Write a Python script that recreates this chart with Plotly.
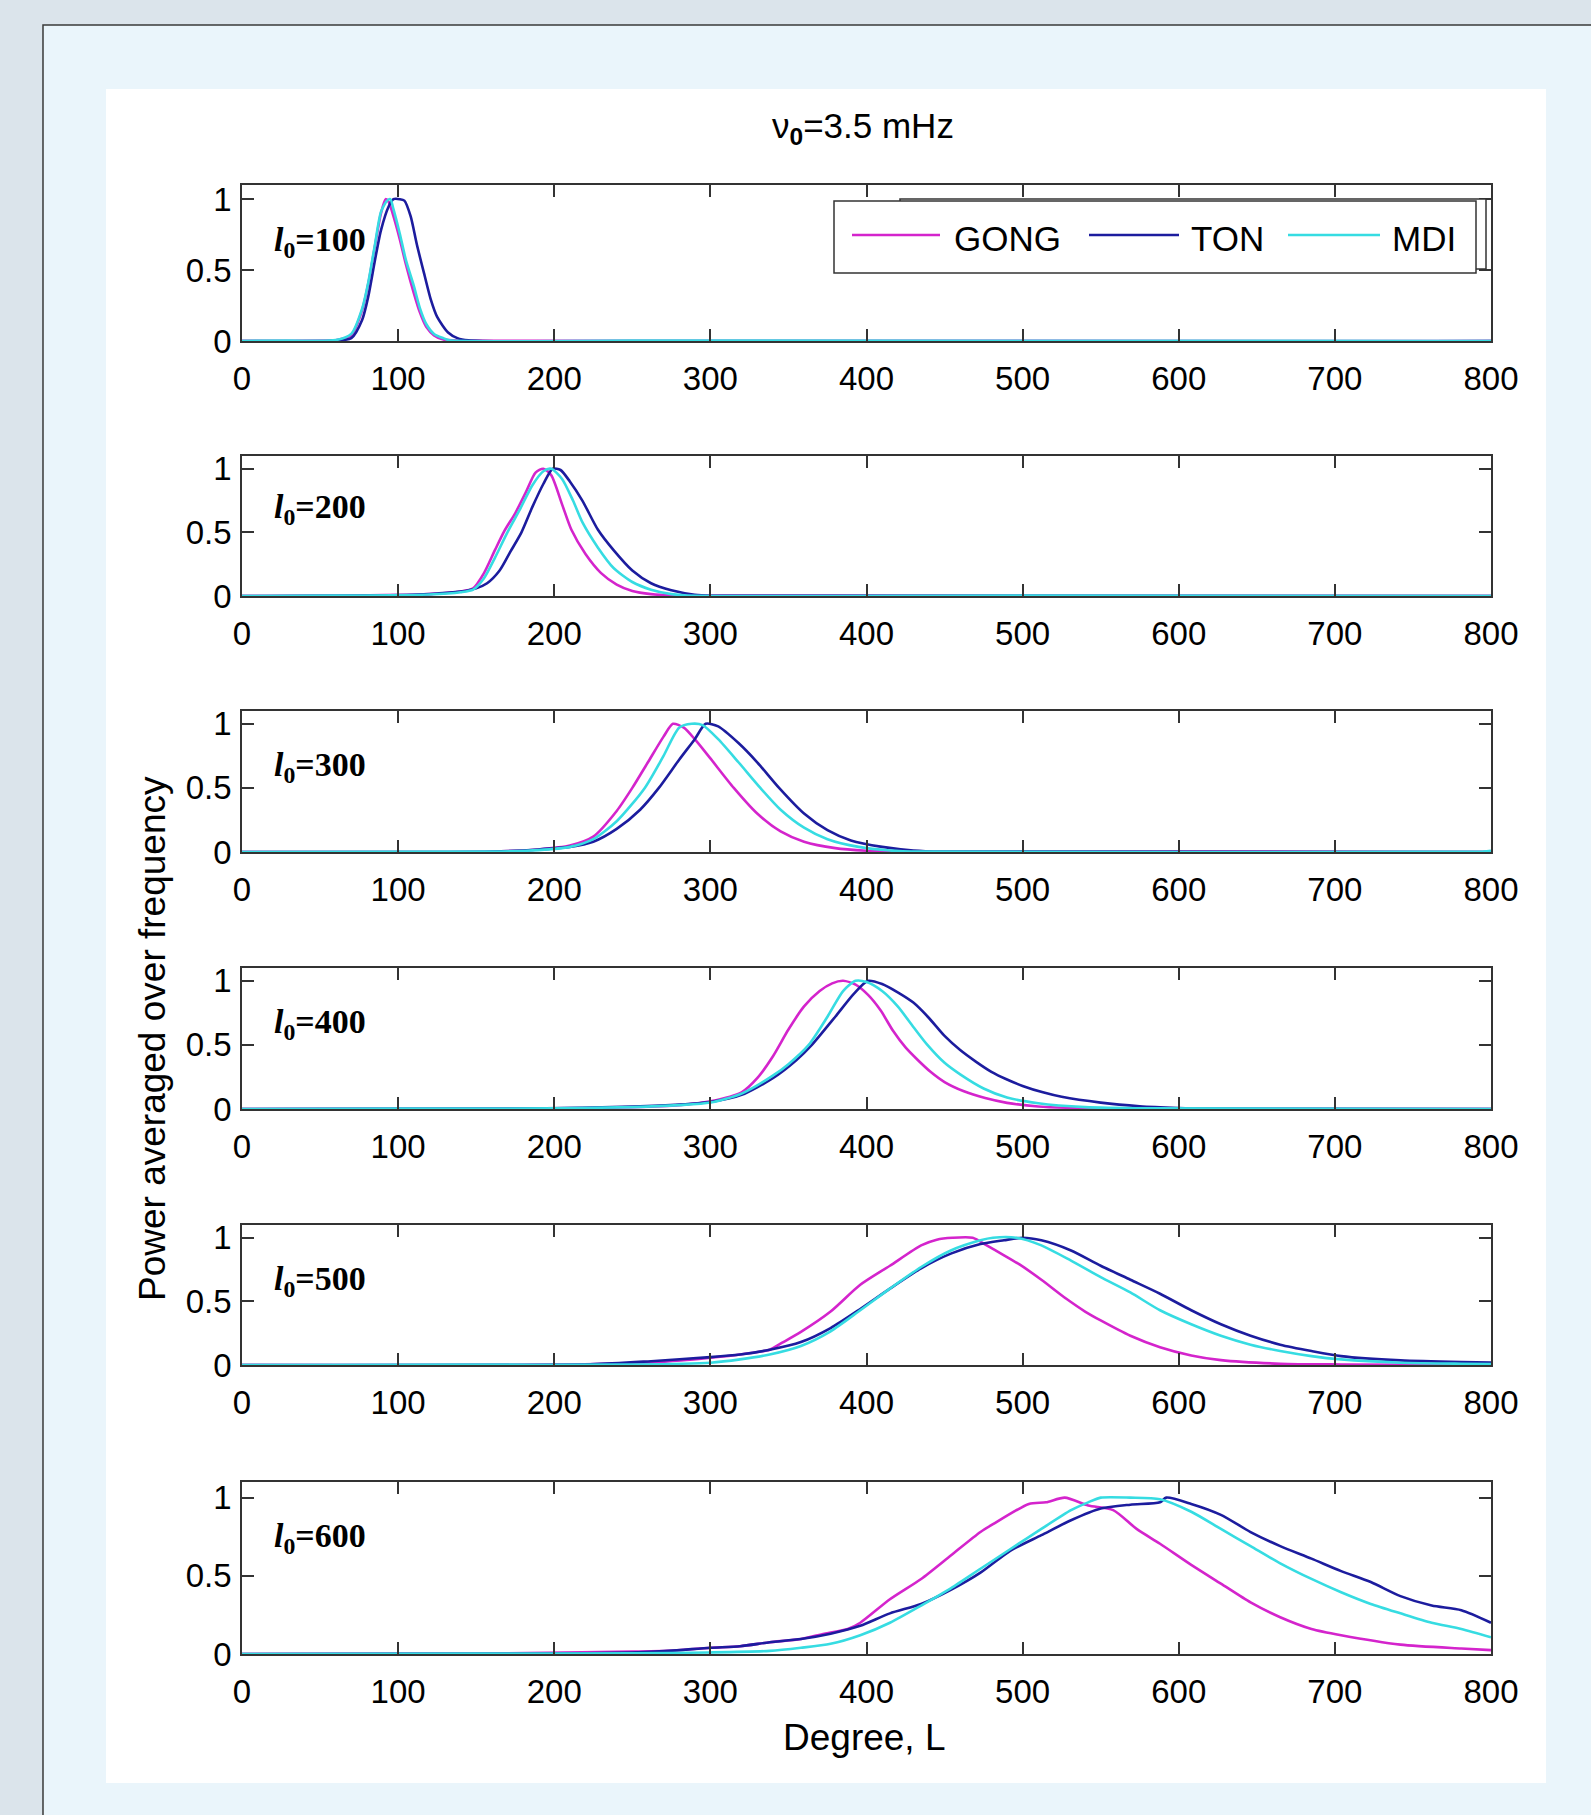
import plotly.graph_objects as go

# ---------------- data ----------------
L0_VALUES = [100, 200, 300, 400, 500, 600]
SERIES_NAMES = ["GONG", "TON", "MDI"]
X_TICKS = [0, 100, 200, 300, 400, 500, 600, 700, 800]
Y_TICKS = [0, 0.5, 1]
Y_TICK_TEXT = ["0", "0.5", "1"]
LABEL_Y = [0.70, 0.68, 0.66, 0.66, 0.66, 0.74]

# l0 = 100
GONG_100 = [(0, 0), (40, 0.002), (60, 0.005), (70, 0.04), (77, 0.22), (81, 0.41), (85, 0.66), (89, 0.90),
            (92, 1.0), (94, 0.98), (97, 0.88), (101, 0.72), (105, 0.54), (110, 0.34), (114, 0.20),
            (118, 0.10), (123, 0.04), (129, 0.01), (140, 0.002), (800, 0)]
TON_100 = [(0, 0), (60, 0.003), (70, 0.02), (77, 0.15), (81, 0.32), (85, 0.56), (89, 0.78), (94, 0.95),
           (97, 1.0), (101, 1.0), (104, 0.99), (108, 0.88), (112, 0.68), (117, 0.46), (121, 0.29),
           (125, 0.17), (132, 0.06), (138, 0.02), (145, 0.005), (800, 0)]
MDI_100 = [(0, 0), (30, 0.003), (60, 0.006), (70, 0.05), (77, 0.23), (81, 0.42), (85, 0.67), (89, 0.91),
           (93, 0.99), (95, 1.0), (97, 0.93), (101, 0.76), (105, 0.57), (110, 0.39), (114, 0.23),
           (118, 0.12), (123, 0.05), (129, 0.02), (133, 0.005), (250, 0.003), (800, 0)]

# l0 = 200
GONG_200 = [(0, 0), (60, 0.002), (120, 0.015), (140, 0.035), (148, 0.06), (155, 0.18), (162, 0.36),
            (168, 0.51), (175, 0.65), (182, 0.82), (188, 0.97), (193, 1.0), (198, 0.95), (205, 0.72),
            (211, 0.52), (220, 0.33), (230, 0.18), (240, 0.09), (250, 0.04), (262, 0.015),
            (275, 0.004), (800, 0)]
TON_200 = [(0, 0), (110, 0.01), (125, 0.02), (140, 0.035), (150, 0.06), (157, 0.10), (165, 0.20),
           (172, 0.35), (179, 0.50), (186, 0.70), (193, 0.88), (199, 1.0), (204, 0.99), (210, 0.90),
           (218, 0.75), (228, 0.52), (238, 0.36), (250, 0.20), (262, 0.10), (275, 0.045),
           (290, 0.01), (300, 0.002), (800, 0)]
MDI_200 = [(0, 0), (60, 0.003), (120, 0.012), (140, 0.03), (148, 0.05), (155, 0.14), (162, 0.30),
           (170, 0.50), (178, 0.68), (186, 0.87), (193, 0.98), (198, 1.0), (205, 0.92), (212, 0.75),
           (218, 0.58), (228, 0.38), (238, 0.22), (250, 0.11), (262, 0.05), (275, 0.015),
           (285, 0.004), (500, 0.003), (800, 0)]

# l0 = 300
GONG_300 = [(0, 0), (160, 0.003), (190, 0.02), (210, 0.05), (225, 0.12), (240, 0.32), (250, 0.50),
            (260, 0.70), (270, 0.90), (276, 1.0), (283, 0.97), (290, 0.88), (300, 0.73), (315, 0.50),
            (330, 0.30), (345, 0.16), (360, 0.08), (380, 0.03), (400, 0.01), (420, 0.002), (800, 0)]
TON_300 = [(0, 0), (160, 0.003), (190, 0.02), (210, 0.04), (225, 0.08), (240, 0.18), (255, 0.33),
           (267, 0.50), (280, 0.72), (290, 0.88), (297, 1.0), (305, 0.98), (318, 0.85), (330, 0.70),
           (344, 0.50), (360, 0.30), (375, 0.17), (390, 0.09), (410, 0.04), (430, 0.012),
           (448, 0.003), (800, 0)]
MDI_300 = [(0, 0), (160, 0.003), (190, 0.015), (210, 0.04), (225, 0.10), (240, 0.24), (258, 0.50),
           (270, 0.75), (280, 0.97), (288, 1.0), (295, 0.99), (305, 0.88), (318, 0.70), (332, 0.50),
           (345, 0.33), (360, 0.19), (375, 0.10), (395, 0.04), (415, 0.012), (435, 0.003),
           (795, 0.004), (800, 0.01)]

# l0 = 400
GONG_400 = [(0, 0), (200, 0.005), (250, 0.015), (280, 0.03), (300, 0.06), (320, 0.13), (330, 0.24),
            (340, 0.41), (350, 0.62), (360, 0.80), (370, 0.92), (378, 0.98), (385, 1.0), (393, 0.97),
            (401, 0.89), (409, 0.77), (417, 0.61), (425, 0.48), (433, 0.38), (441, 0.29), (450, 0.21),
            (462, 0.14), (476, 0.085), (490, 0.048), (510, 0.02), (540, 0.006), (570, 0.002), (800, 0)]
TON_400 = [(0, 0), (195, 0.005), (250, 0.02), (280, 0.035), (300, 0.055), (320, 0.11), (340, 0.24),
           (355, 0.38), (365, 0.50), (380, 0.72), (392, 0.90), (401, 1.0), (410, 0.975), (420, 0.91),
           (430, 0.83), (440, 0.71), (450, 0.57), (460, 0.46), (470, 0.37), (480, 0.29), (490, 0.23),
           (500, 0.18), (513, 0.13), (525, 0.095), (550, 0.05), (575, 0.022), (600, 0.008),
           (615, 0.003), (800, 0)]
MDI_400 = [(0, 0), (100, 0.003), (200, 0.005), (250, 0.015), (280, 0.03), (300, 0.05), (320, 0.12),
           (340, 0.26), (350, 0.35), (363, 0.50), (375, 0.72), (385, 0.92), (393, 1.0), (400, 0.99),
           (410, 0.92), (420, 0.80), (430, 0.64), (439, 0.50), (450, 0.36), (460, 0.27),
           (475, 0.16), (490, 0.09), (510, 0.045), (540, 0.015), (580, 0.005), (800, 0)]

# l0 = 500
GONG_500 = [(0, 0), (200, 0.003), (262, 0.02), (281, 0.035), (300, 0.057), (319, 0.083), (338, 0.12),
            (346, 0.175), (358, 0.26), (377, 0.42), (396, 0.63), (415, 0.78), (435, 0.94), (445, 0.985),
            (455, 1.0), (468, 1.0), (477, 0.94), (487, 0.87), (498, 0.79), (512, 0.67), (528, 0.52),
            (540, 0.42), (550, 0.35), (569, 0.23), (588, 0.14), (608, 0.075), (627, 0.038),
            (665, 0.01), (704, 0.004), (800, 0)]
TON_500 = [(0, 0), (223, 0.005), (262, 0.03), (300, 0.062), (319, 0.083), (338, 0.12), (358, 0.18),
           (377, 0.29), (396, 0.44), (415, 0.60), (435, 0.76), (454, 0.875), (473, 0.95), (488, 0.98),
           (500, 1.0), (512, 0.98), (531, 0.90), (550, 0.78), (569, 0.67), (588, 0.56), (608, 0.43),
           (627, 0.32), (646, 0.23), (665, 0.16), (685, 0.11), (704, 0.07), (742, 0.036),
           (781, 0.023), (800, 0.02)]
MDI_500 = [(0, 0), (130, 0.003), (250, 0.004), (300, 0.018), (319, 0.044), (338, 0.083), (358, 0.15),
           (377, 0.265), (396, 0.43), (415, 0.60), (435, 0.77), (454, 0.90), (473, 0.98), (481, 1.0),
           (496, 1.0), (512, 0.94), (531, 0.82), (550, 0.69), (569, 0.57), (588, 0.43), (608, 0.32),
           (627, 0.23), (646, 0.16), (665, 0.11), (685, 0.07), (704, 0.044), (742, 0.018),
           (781, 0.01), (800, 0.008)]

# l0 = 600
GONG_600 = [(0, 0), (150, 0.002), (250, 0.015), (273, 0.02), (300, 0.04), (319, 0.05), (338, 0.075),
            (358, 0.096), (373, 0.13), (388, 0.16), (396, 0.20), (415, 0.35), (435, 0.48), (454, 0.63),
            (473, 0.78), (481, 0.83), (504, 0.96), (515, 0.97), (527, 1.0), (542, 0.95), (558, 0.92),
            (573, 0.80), (588, 0.705), (608, 0.57), (627, 0.45), (646, 0.33), (665, 0.235),
            (685, 0.16), (704, 0.12), (742, 0.06), (781, 0.035), (800, 0.025)]
TON_600 = [(0, 0), (200, 0.003), (250, 0.01), (273, 0.02), (300, 0.04), (319, 0.05), (338, 0.075),
           (358, 0.096), (377, 0.13), (396, 0.18), (415, 0.26), (435, 0.32), (454, 0.41), (473, 0.52),
           (492, 0.66), (512, 0.76), (531, 0.855), (550, 0.93), (569, 0.955), (588, 0.97), (592, 1.0),
           (608, 0.96), (627, 0.89), (646, 0.78), (665, 0.69), (685, 0.61), (704, 0.53), (723, 0.46),
           (742, 0.37), (762, 0.31), (781, 0.28), (800, 0.20)]
MDI_600 = [(0, 0), (150, 0.003), (250, 0.005), (300, 0.01), (338, 0.02), (358, 0.04), (377, 0.065),
           (396, 0.12), (415, 0.20), (435, 0.31), (454, 0.42), (473, 0.545), (492, 0.67), (512, 0.80),
           (531, 0.92), (542, 0.97), (550, 1.0), (569, 1.0), (588, 0.99), (608, 0.91), (627, 0.80),
           (646, 0.69), (665, 0.58), (685, 0.48), (704, 0.395), (723, 0.32), (742, 0.26), (762, 0.20),
           (781, 0.16), (800, 0.107)]

SERIES = [
    (GONG_100, TON_100, MDI_100),
    (GONG_200, TON_200, MDI_200),
    (GONG_300, TON_300, MDI_300),
    (GONG_400, TON_400, MDI_400),
    (GONG_500, TON_500, MDI_500),
    (GONG_600, TON_600, MDI_600),
]

# ---------------- styling / layout ----------------
W, H = 1591, 1815
COLORS = ["#d424cc", "#1c1c9e", "#36dce2"]
AXC = "#333333"
SANS = "Liberation Sans, Arial, Helvetica, sans-serif"
SERIF = "Liberation Serif, Times New Roman, serif"

# panel pixel boxes (top, bottom)
PANELS = [(185, 341), (456, 596), (711, 852), (968, 1109), (1225, 1365), (1482, 1654)]
X_LEFT, X_RIGHT = 242, 1491


def px(x):
    return x / W


def py(y):
    return 1 - y / H


fig = go.Figure()
layout = dict(
    width=W, height=H, autosize=False,
    margin=dict(l=0, r=0, t=0, b=0, pad=0, autoexpand=False),
    paper_bgcolor="#dbe4eb",
    plot_bgcolor="white",
    showlegend=False,
)

for i, (top, bot) in enumerate(PANELS):
    k = "" if i == 0 else str(i + 1)
    for j, s in enumerate(SERIES[i]):
        fig.add_trace(go.Scatter(
            x=[p[0] for p in s], y=[p[1] for p in s],
            mode="lines", name=SERIES_NAMES[j],
            line=dict(color=COLORS[j], width=2.6, shape="spline", smoothing=0.7),
            xaxis="x" + k, yaxis="y" + k, hoverinfo="skip",
        ))
    layout["xaxis" + k] = dict(
        domain=[px(X_LEFT), px(X_RIGHT)], anchor="y" + k, range=[0, 800],
        tickvals=X_TICKS, ticks="inside", ticklen=12, tickwidth=1.5, tickcolor=AXC,
        showline=True, linecolor=AXC, linewidth=1.6, mirror="ticks",
        showgrid=False, zeroline=False, automargin=False,
        tickfont=dict(family=SANS, size=33, color="black"),
        ticklabelstandoff=8,
    )
    layout["yaxis" + k] = dict(
        domain=[py(bot), py(top)], anchor="x" + k, range=[0, 1.1],
        tickvals=Y_TICKS, ticktext=Y_TICK_TEXT, ticks="inside", ticklen=12, tickwidth=1.5,
        tickcolor=AXC, showline=True, linecolor=AXC, linewidth=1.6, mirror="ticks",
        showgrid=False, zeroline=False, automargin=False,
        tickfont=dict(family=SANS, size=33, color="black"),
        ticklabelstandoff=2,
    )

shapes = [
    # inner light panel
    dict(type="rect", xref="paper", yref="paper", x0=px(43), x1=1, y0=0, y1=py(25),
         fillcolor="#eaf5fb", line=dict(width=0), layer="below"),
    dict(type="path", xref="paper", yref="paper",
         path="M %f,0 L %f,%f L 1,%f" % (px(43), px(43), py(25), py(25)),
         line=dict(color="#3a3a3a", width=1.5), layer="below"),
    dict(type="rect", xref="paper", yref="paper", x0=px(106), x1=px(1546), y0=py(1783), y1=py(89),
         fillcolor="white", line=dict(width=0), layer="below"),
    # legend boxes
    dict(type="rect", xref="paper", yref="paper", x0=px(900), x1=px(1486), y0=py(269), y1=py(199),
         fillcolor="white", line=dict(color=AXC, width=1.5)),
    dict(type="rect", xref="paper", yref="paper", x0=px(834), x1=px(1476), y0=py(273), y1=py(201),
         fillcolor="white", line=dict(color=AXC, width=1.5)),
]
LEG_LINES = [(852, 940), (1089, 1179), (1288, 1380)]
LEG_TEXT_X = [952, 1189, 1390]
for j, (a, b) in enumerate(LEG_LINES):
    shapes.append(dict(type="line", xref="paper", yref="paper", x0=px(a), x1=px(b),
                       y0=py(235), y1=py(235), line=dict(color=COLORS[j], width=2.6)))

annotations = []
for j, name in enumerate(SERIES_NAMES):
    annotations.append(dict(xref="paper", yref="paper", x=px(LEG_TEXT_X[j]), y=py(238),
                            text=name, showarrow=False, xanchor="left", yanchor="middle",
                            font=dict(family=SANS, size=35, color="black")))

for i, l0 in enumerate(L0_VALUES):
    k = "" if i == 0 else str(i + 1)
    annotations.append(dict(xref="x" + k, yref="y" + k, x=19, y=LABEL_Y[i],
                            text="<b><i>l</i><sub>0</sub>=%d</b>" % l0, showarrow=False,
                            xanchor="left", yanchor="middle",
                            font=dict(family=SERIF, size=34, color="black")))

annotations += [
    dict(xref="paper", yref="paper", x=px(863), y=py(128), text="ν<sub><b>0</b></sub>=3.5 mHz",
         showarrow=False, xanchor="center", yanchor="middle",
         font=dict(family=SANS, size=35, color="black")),
    dict(xref="paper", yref="paper", x=px(864), y=py(1737), text="Degree, L",
         showarrow=False, xanchor="center", yanchor="middle",
         font=dict(family=SANS, size=37, color="black")),
    dict(xref="paper", yref="paper", x=px(152), y=py(1039), text="Power averaged over frequency",
         showarrow=False, xanchor="center", yanchor="middle", textangle=-90,
         font=dict(family=SANS, size=37, color="black")),
]

layout["shapes"] = shapes
layout["annotations"] = annotations
fig.update_layout(**layout)
fig.write_html(
    "out.html",
    config={"displayModeBar": False, "responsive": False},
    post_script=(
        "document.documentElement.style.margin='0px';"
        "document.documentElement.style.overflow='hidden';"
        "document.body.style.margin='0px';"
        "document.body.style.padding='0px';"
        "document.body.style.overflow='hidden';"
    ),
)
